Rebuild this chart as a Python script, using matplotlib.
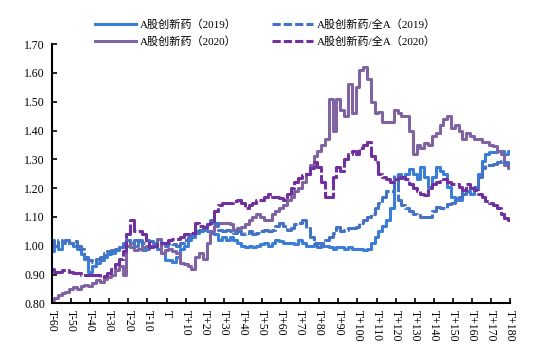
import matplotlib

matplotlib.use("Agg")

import matplotlib.pyplot as plt
from matplotlib.lines import Line2D
import numpy as np

plt.rcParams["font.family"] = ["Liberation Serif", "Noto Sans CJK SC"]

# trading days relative to T, every 2nd day
days = np.arange(-60, 181, 2)

tick_pos = list(range(-60, 181, 10))
tick_labels = ["T-60", "T-50", "T-40", "T-30", "T-20", "T-10", "T",
               "T+10", "T+20", "T+30", "T+40", "T+50", "T+60", "T+70",
               "T+80", "T+90", "T+100", "T+110", "T+120", "T+130",
               "T+140", "T+150", "T+160", "T+170", "T+180"]

labels = ["A股创新药（2019）", "A股创新药（2020）",
          "A股创新药/全A（2019）", "A股创新药/全A（2020）"]

abs_2019 = [
    0.98, 1.00, 0.99, 1.01, 1.02, 1.01, 1.00, 0.99, 0.97, 0.955,
    0.91, 0.93, 0.94, 0.95, 0.96, 0.97, 0.975, 0.985, 0.995, 1.00,
    1.02, 0.995, 1.00, 1.02, 0.985, 0.99, 1.00, 1.00, 0.99, 0.975,
    0.95, 0.95, 0.945, 0.96, 0.99, 1.00, 1.02, 1.03, 1.045, 1.05,
    1.055, 1.05, 1.045, 1.04, 1.02, 1.03, 1.02, 1.03, 1.02, 1.01,
    1.00, 0.995, 1.00, 0.995, 1.00, 1.005, 1.01, 1.00, 1.01, 1.02,
    1.015, 1.01, 1.01, 1.01, 1.005, 1.02, 1.01, 1.00, 1.00, 1.005,
    1.01, 1.00, 1.00, 0.995, 0.99, 0.995, 0.995, 0.99, 0.995, 0.99,
    0.99, 0.99, 0.985, 0.99, 1.01, 1.03, 1.05, 1.07, 1.09, 1.13,
    1.23, 1.25, 1.235, 1.25, 1.265, 1.25, 1.23, 1.275, 1.24, 1.205,
    1.24, 1.275, 1.26, 1.25, 1.205, 1.17, 1.165, 1.16, 1.195, 1.19,
    1.18, 1.20, 1.25, 1.295, 1.32, 1.325, 1.325, 1.33, 1.33, 1.32,
    1.33,
]

abs_2020 = [
    0.81, 0.82, 0.83, 0.835, 0.84, 0.85, 0.855, 0.85, 0.86, 0.865,
    0.86, 0.87, 0.88, 0.875, 0.885, 0.89, 0.90, 0.915, 0.93, 0.90,
    1.00, 1.01, 0.985, 0.99, 0.995, 1.00, 0.995, 1.00, 1.025, 0.975,
    0.985, 0.99, 0.98, 0.975, 0.94, 0.935, 0.93, 0.92, 0.96, 0.975,
    0.955, 1.01, 1.05, 1.07, 1.08, 1.08, 1.08, 1.075, 1.055, 1.06,
    1.065, 1.075, 1.09, 1.10, 1.11, 1.10, 1.09, 1.09, 1.11, 1.12,
    1.13, 1.14, 1.16, 1.17, 1.19, 1.20, 1.22, 1.25, 1.28, 1.31,
    1.33, 1.35, 1.37, 1.51, 1.40, 1.51, 1.47, 1.45, 1.56, 1.46,
    1.55, 1.61, 1.62, 1.58, 1.50, 1.46, 1.465, 1.43, 1.43, 1.43,
    1.47, 1.46, 1.45, 1.45, 1.40, 1.32, 1.35, 1.34, 1.355, 1.35,
    1.38, 1.39, 1.42, 1.44, 1.45, 1.41, 1.42, 1.40, 1.37, 1.39,
    1.38, 1.37, 1.37, 1.36, 1.36, 1.35, 1.345, 1.33, 1.32, 1.28,
    1.27,
]

rel_2019 = [
    1.02, 1.00, 1.02, 1.015, 1.02, 1.01, 1.015, 1.00, 0.99, 0.96,
    0.95, 0.945, 0.955, 0.96, 0.975, 0.98, 0.985, 0.99, 0.995, 1.01,
    1.02, 1.01, 1.02, 1.015, 1.01, 1.02, 1.015, 1.01, 1.015, 1.01,
    1.00, 1.01, 1.005, 1.00, 1.01, 1.02, 1.03, 1.04, 1.05, 1.055,
    1.06, 1.08, 1.09, 1.08, 1.055, 1.05, 1.055, 1.05, 1.045, 1.05,
    1.04, 1.045, 1.05, 1.04, 1.045, 1.05, 1.055, 1.05, 1.055, 1.07,
    1.08, 1.07, 1.055, 1.06, 1.075, 1.08, 1.09, 1.06, 1.03, 1.01,
    0.995, 1.01, 1.02, 1.03, 1.045, 1.065, 1.05, 1.055, 1.06, 1.06,
    1.065, 1.08, 1.09, 1.10, 1.11, 1.13, 1.15, 1.17, 1.19, 1.19,
    1.245, 1.16, 1.14, 1.13, 1.12, 1.11, 1.105, 1.10, 1.10, 1.10,
    1.12, 1.135, 1.13, 1.13, 1.145, 1.15, 1.16, 1.17, 1.18, 1.19,
    1.20, 1.205, 1.24, 1.27, 1.28, 1.28, 1.285, 1.29, 1.295, 1.29,
    1.28,
]

rel_2020 = [
    0.92, 0.91, 0.91, 0.915, 0.915, 0.91, 0.905, 0.905, 0.90, 0.90,
    0.90, 0.90, 0.90, 0.89, 0.895, 0.905, 0.92, 0.935, 0.955, 0.98,
    1.04, 1.09, 1.05, 1.05, 1.04, 1.02, 0.995, 1.00, 1.005, 1.01,
    1.01, 1.02, 1.025, 1.025, 1.03, 1.04, 1.04, 1.045, 1.08, 1.07,
    1.065, 1.075, 1.08, 1.12, 1.14, 1.15, 1.15, 1.15, 1.155, 1.16,
    1.15, 1.13, 1.14, 1.15, 1.16, 1.16, 1.17, 1.18, 1.17, 1.17,
    1.165, 1.16, 1.18, 1.20, 1.22, 1.235, 1.245, 1.25, 1.27, 1.29,
    1.275, 1.22, 1.17, 1.17, 1.24, 1.275, 1.26, 1.30, 1.32, 1.33,
    1.32, 1.34, 1.35, 1.36, 1.31, 1.29, 1.25, 1.24, 1.23, 1.22,
    1.23, 1.235, 1.24, 1.23, 1.215, 1.20, 1.19, 1.18, 1.175, 1.20,
    1.215, 1.22, 1.225, 1.23, 1.22, 1.215, 1.215, 1.205, 1.195, 1.215,
    1.20, 1.195, 1.18, 1.17, 1.155, 1.15, 1.14, 1.13, 1.11, 1.095,
    1.09,
]

colors = ["#3A7ED6", "#8064A2", "#4472C4", "#7030A0"]
series = [abs_2019, abs_2020, rel_2019, rel_2020]
dashed = [False, False, True, True]

fig = plt.figure(figsize=(5.34, 3.56), dpi=100)
ax = fig.add_axes([0.0974, 0.148, 0.858, 0.728])

lw = 2.2
handles = []
for vals, c, d, lab in zip(series, colors, dashed, labels):
    ls = (0, (6, 0.8)) if d else "-"
    ax.plot(days, vals, drawstyle="steps-mid", color=c, lw=lw, ls=ls)
    # legend keys use the shorter dash pattern seen in the key
    handles.append(Line2D([], [], color=c, lw=lw,
                          ls=(0, (2.7, 1)) if d else "-", label=lab))

ax.set_xlim(-60, 180)
ax.set_ylim(0.8, 1.7)
ax.set_yticks(np.arange(0.8, 1.71, 0.1))
ax.yaxis.set_major_formatter(matplotlib.ticker.FormatStrFormatter("%.2f"))
ax.set_xticks(tick_pos)
ax.set_xticklabels(tick_labels, rotation=270, va="top", ha="center")

for side in ["top", "right"]:
    ax.spines[side].set_visible(False)
for side in ["left", "bottom"]:
    ax.spines[side].set_linewidth(1.5)
ax.tick_params(direction="in", length=3.5, width=1.2, labelsize=8.5, pad=5)

fig.legend(handles=handles, loc="center", bbox_to_anchor=(0.497, 0.908), ncol=2,
           frameon=False, fontsize=8, handlelength=3.7, handletextpad=0.3,
           columnspacing=3.2, labelspacing=0.55, borderpad=0)

fig.savefig("out.png", dpi=100)
plt.close(fig)
